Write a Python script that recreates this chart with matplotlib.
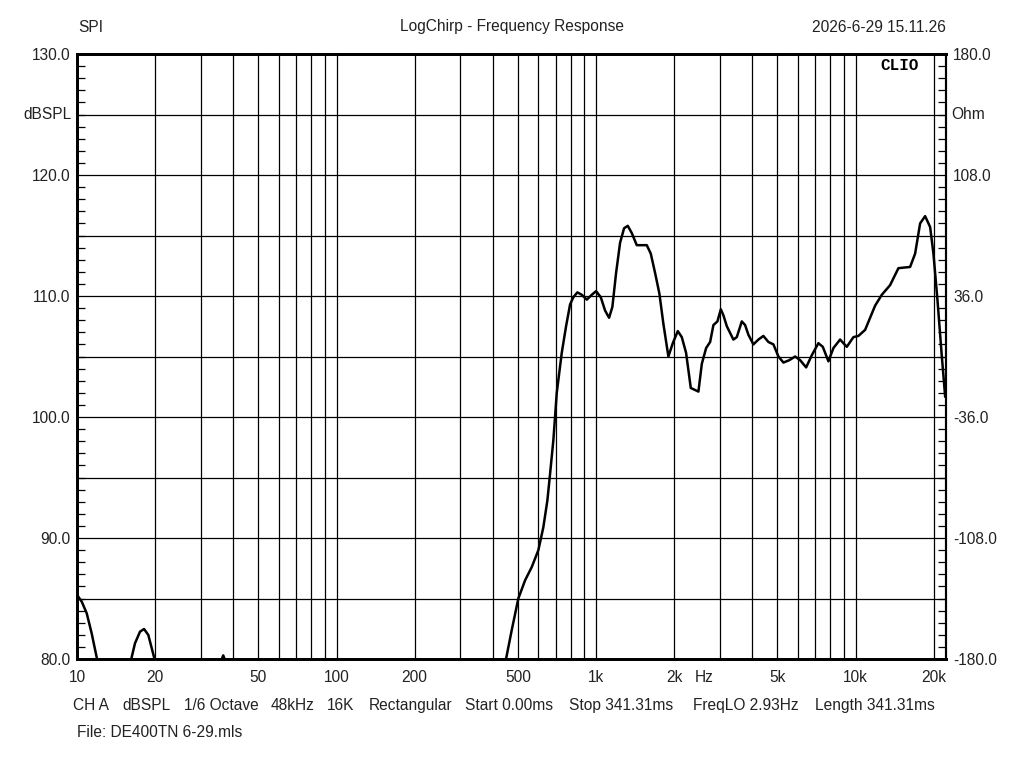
import numpy as np
import matplotlib
matplotlib.use('Agg')
import matplotlib.pyplot as plt
from matplotlib.ticker import FixedLocator, NullFormatter, MultipleLocator

# frequency response (Hz, dBSPL); NaN = curve below 80 dB
freq = [10.0, 10.43, 10.9, 11.39, 12.0, np.nan,
        16.1, 16.73, 17.49, 18.13, 18.83, 20.0, np.nan,
        36.0, 36.6, 37.2, np.nan,
        448, 473.3, 501.8, 532.6, 565.2, 599.4, 626.5, 649.2, 664.9, 684.7,
        705.6, 737.5, 766.3, 794.0, 817.6, 847.1, 880.9, 920.9, 962.6, 1000,
        1042.6, 1083.2, 1122.3, 1155.6, 1194.3, 1237.4, 1282.1, 1325.0, 1372.8,
        1435.0, 1568.3, 1624.9, 1688.3, 1753.8, 1817.1, 1899.6, 1975.3, 2064.6,
        2139.3, 2222.5, 2317.0, 2479.6, 2555.5, 2655.1, 2750.9, 2832.5, 2934.7,
        3024.6, 3095.4, 3190.2, 3381.4, 3485.0, 3643.4, 3751.5, 3862.8, 4038.3,
        4221.2, 4412.9, 4613.5, 4823.2, 5042.1, 5271.1, 5558.9, 5847.8, 6111.9,
        6447.0, 6779.0, 7188.3, 7474.8, 7857.9, 8214.5, 8714.1, 9249.1, 9806.8,
        10251, 10880, 11373, 11888, 12617, 13582, 14621, 16218, 16955, 17725,
        18530, 19372, 19947, 20668, 21491, 22131]
spl = [85.3, 84.74, 83.78, 82.12, 79.8, np.nan,
       79.8, 81.3, 82.26, 82.48, 81.98, 79.8, np.nan,
       79.9, 80.3, 79.9, np.nan,
       79.8, 82.4, 85.0, 86.5, 87.6, 89.0, 90.9, 93.1, 95.3, 98.1,
       102.0, 105.3, 107.5, 109.3, 109.9, 110.3, 110.1, 109.7, 110.1, 110.4,
       109.9, 108.8, 108.2, 109.1, 111.9, 114.4, 115.6, 115.8, 115.2,
       114.2, 114.2, 113.5, 111.9, 110.2, 107.7, 105.0, 106.1, 107.1,
       106.6, 105.3, 102.4, 102.1, 104.4, 105.7, 106.2, 107.6, 107.9,
       108.9, 108.4, 107.5, 106.4, 106.6, 107.9, 107.6, 106.8, 106.0,
       106.4, 106.7, 106.2, 106.0, 105.0, 104.5, 104.7, 105.0, 104.7,
       104.1, 105.1, 106.1, 105.8, 104.6, 105.7, 106.4, 105.8, 106.6,
       106.7, 107.2, 108.2, 109.2, 110.1, 110.9, 112.3, 112.4, 113.5, 116.0,
       116.6, 115.7, 113.5, 109.7, 105.0, 101.7]

x_grid = [10, 20, 30, 40, 50, 60, 70, 80, 90, 100, 200, 300, 400, 500, 600, 700,
          800, 900, 1000, 2000, 3000, 4000, 5000, 6000, 7000, 8000, 9000, 10000, 20000]
x_ticks = [10, 20, 50, 100, 200, 500, 1000, 2000, 5000, 10000, 20000]
x_labels = ['10', '20', '50', '100', '200', '500', '1k', '2k', '5k', '10k', '20k']
left_ticks = [80, 90, 100, 110, 120, 130]
right_labels = ['-180.0', '-108.0', '-36.0', '36.0', '108.0', '180.0']
info_items = ['CH A', 'dBSPL', '1/6 Octave', '48kHz', '16K', 'Rectangular',
              'Start 0.00ms', 'Stop 341.31ms', 'FreqLO 2.93Hz', 'Length 341.31ms']
info_x = [73, 122, 184, 271, 327, 369, 465, 569, 693, 815]

plt.rcParams['font.family'] = ['Liberation Sans', 'DejaVu Sans']
FS = 11.2
TC = '#222222'

fig = plt.figure(figsize=(10.24, 7.68), dpi=100)
ax = fig.add_axes([77/1024, 1-659/768, 869/1024, 605/768])
ax.set_xscale('log')
ax.set_xlim(10, 22300)
ax.set_ylim(80, 130)

for f in x_grid:
    ax.axvline(f, color='black', lw=0.9, zorder=1)
for v in np.arange(85, 130, 5):
    ax.axhline(v, color='black', lw=0.9, zorder=1)

ax.plot(freq, spl, color='black', lw=1.8, zorder=3, clip_on=True)

ax.xaxis.set_major_locator(FixedLocator(x_ticks))
ax.xaxis.set_minor_locator(FixedLocator([]))
ax.xaxis.set_minor_formatter(NullFormatter())
ax.set_xticklabels(x_labels)
ax.tick_params(axis='x', length=0, pad=8, labelsize=FS, colors=TC)

ax.set_yticks(left_ticks)
ax.set_yticklabels([f'{v:.1f}' for v in left_ticks])
ax.yaxis.set_minor_locator(MultipleLocator(1))
ax.tick_params(axis='y', which='major', length=0, pad=5, labelsize=FS, colors=TC)
ax.tick_params(axis='y', which='minor', direction='in', length=6, width=0.9)

ax2 = ax.twinx()
ax2.set_ylim(80, 130)
ax2.set_yticks(left_ticks)
ax2.set_yticklabels(right_labels)
ax2.yaxis.set_minor_locator(MultipleLocator(1))
ax2.tick_params(axis='y', which='major', length=0, pad=5, labelsize=FS, colors=TC)
ax2.tick_params(axis='y', which='minor', direction='in', length=6, width=0.9)

for s in ['left', 'top', 'bottom']:
    ax.spines[s].set_linewidth(2)
    ax2.spines[s].set_linewidth(2)
ax.spines['right'].set_linewidth(1.5)
ax2.spines['right'].set_linewidth(1.5)

ax.text(-0.006, 125, 'dBSPL', transform=ax.get_yaxis_transform(), ha='right', va='center',
        fontsize=FS, color=TC)
ax.text(1.006, 125, 'Ohm', transform=ax.get_yaxis_transform(), ha='left', va='center',
        fontsize=FS, color=TC)
fig.text(704/1024, 1-678/768, 'Hz', ha='center', va='center', fontsize=FS, color=TC)
fig.text(919/1024, 1-65/768, 'CLIO', ha='right', va='center',
         fontsize=11.5, fontweight='bold', family='Liberation Mono')

fig.text(78/1024, 1-27/768, 'SPI', ha='left', va='center', fontsize=FS, color=TC)
fig.text(512/1024, 1-27/768, 'LogChirp - Frequency Response', ha='center', va='center',
         fontsize=FS, color=TC)
fig.text(946/1024, 1-27/768, '2026-6-29 15.11.26', ha='right', va='center',
         fontsize=FS, color=TC)
for label, px in zip(info_items, info_x):
    fig.text(px/1024, 1-710/768, label, ha='left', va='baseline', fontsize=FS, color=TC)
fig.text(77/1024, 1-737/768, 'File: DE400TN 6-29.mls', ha='left', va='baseline',
         fontsize=FS, color=TC)

fig.savefig('out.png', dpi=100)
